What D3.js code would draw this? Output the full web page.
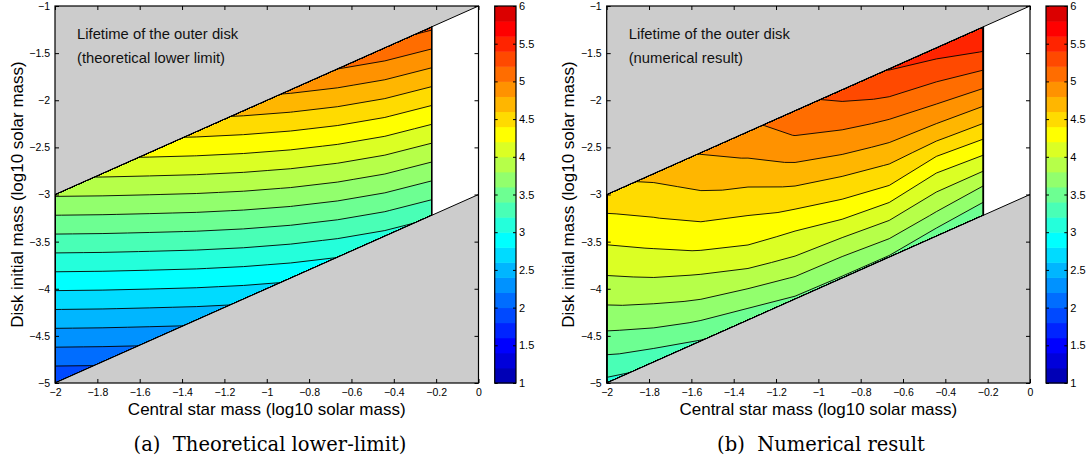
<!DOCTYPE html>
<html lang="en">
<head>
<meta charset="UTF-8">
<title>Lifetime of the outer disk</title>
<style>
  body { margin: 0; padding: 0; background: #fff; }
  svg { display: block; font-family: "Liberation Sans", Arial, sans-serif; }
</style>
</head>
<body>
<script src="https://d3js.org/d3.v7.min.js"></script>
<script>
const width = 1089
const height = 465

// grid columns: log10 central star mass, rows: log10 (disk mass / star mass)
const starMass = [-2, -1.7775, -1.555, -1.3325, -1.11, -0.8875, -0.665, -0.4425, -0.22]
const massRatio = [-3, -2.75, -2.5, -2.25, -2, -1.75, -1.5, -1.25, -1]

// log10 lifetime, one line per star mass column (ratio -3 ... -1)
const theoryLifetime = [
  [1.82, 2.07, 2.32, 2.57, 2.82, 3.07, 3.32, 3.57, 3.82],
  [2.037, 2.287, 2.537, 2.787, 3.037, 3.287, 3.537, 3.787, 4.037],
  [2.248, 2.498, 2.748, 2.998, 3.248, 3.498, 3.748, 3.998, 4.248],
  [2.457, 2.707, 2.957, 3.207, 3.457, 3.707, 3.957, 4.207, 4.457],
  [2.655, 2.905, 3.155, 3.405, 3.655, 3.905, 4.155, 4.405, 4.655],
  [2.839, 3.089, 3.339, 3.589, 3.839, 4.089, 4.339, 4.589, 4.839],
  [3.003, 3.253, 3.503, 3.753, 4.003, 4.253, 4.503, 4.753, 5.003],
  [3.14, 3.39, 3.64, 3.89, 4.14, 4.39, 4.64, 4.89, 5.14],
  [3.235, 3.485, 3.735, 3.985, 4.235, 4.485, 4.735, 4.985, 5.235]
]
const numericLifetime = [
  [3.15, 3.36, 3.56, 3.75, 3.91, 4.07, 4.22, 4.37, 4.52],
  [3.25, 3.51, 3.71, 3.90, 4.07, 4.23, 4.38, 4.52, 4.65],
  [3.39, 3.63, 3.85, 4.03, 4.23, 4.39, 4.55, 4.68, 4.81],
  [3.48, 3.72, 3.96, 4.17, 4.33, 4.49, 4.66, 4.82, 4.95],
  [3.57, 3.81, 4.04, 4.22, 4.44, 4.64, 4.84, 5.01, 5.11],
  [3.58, 3.82, 4.07, 4.33, 4.53, 4.75, 4.95, 5.12, 5.28],
  [3.58, 3.86, 4.11, 4.39, 4.61, 4.83, 5.03, 5.24, 5.41],
  [3.50, 3.79, 4.03, 4.28, 4.59, 4.86, 5.09, 5.29, 5.50],
  [3.45, 3.72, 4.04, 4.33, 4.63, 4.90, 5.16, 5.41, 5.58]
]

const levels = [1, 1.2, 1.4, 1.6, 1.8, 2, 2.2, 2.4, 2.6, 2.8, 3, 3.2, 3.4, 3.6, 3.8,
  4, 4.2, 4.4, 4.6, 4.8, 5, 5.2, 5.4, 5.6, 5.8]
const xTicks = [-2, -1.8, -1.6, -1.4, -1.2, -1, -0.8, -0.6, -0.4, -0.2, 0]
const yTicks = [-5, -4.5, -4, -3.5, -3, -2.5, -2, -1.5, -1]
const cbTicks = [1, 1.5, 2, 2.5, 3, 3.5, 4, 4.5, 5, 5.5, 6]

// jet(25)
const jet = ['#0000b6', '#0000db', '#0000ff', '#0024ff', '#0049ff', '#006dff', '#0092ff',
  '#00b6ff', '#00dbff', '#00ffff', '#24ffdb', '#49ffb6', '#6dff92', '#92ff6d', '#b6ff49',
  '#dbff24', '#ffff00', '#ffdb00', '#ffb600', '#ff9200', '#ff6d00', '#ff4900', '#ff2400',
  '#ff0000', '#db0000']

const plotTop = 6
const plotBottom = 383
const fmt = d3.format('')

const panels = [
  { left: 55, right: 478.5, cbLeft: 494.7, cbRight: 516, values: theoryLifetime,
    note: ['Lifetime of the outer disk', '(theoretical lower limit)'],
    caption: '(a)\u00a0 Theoretical lower-limit)', captionX: 270 },
  { left: 606.7, right: 1030, cbLeft: 1046, cbRight: 1067.3, values: numericLifetime,
    note: ['Lifetime of the outer disk', '(numerical result)'],
    caption: '(b)\u00a0 Numerical result', captionX: 821 }
]

function setAttr(sel, attrs) {
  Object.entries(attrs).forEach(([k, v]) => sel.attr(k, v))
}

const svg = d3.select('body')
  .append('svg')
  .call(setAttr, { width, height })

panels.forEach(drawPanel)

function drawPanel(p, k) {
  const g = svg.append('g')
  const x = d3.scaleLinear().domain([-2, 0]).range([p.left, p.right])
  const y = d3.scaleLinear().domain([-5, -1]).range([plotBottom, plotTop])
  const n = starMass.length
  const m = massRatio.length
  const colAt = d3.scaleLinear().domain(d3.range(n)).range(starMass).clamp(true)
  const rowAt = d3.scaleLinear().domain(d3.range(m)).range(massRatio).clamp(true)
  const line = d3.line().x(d => x(d[0])).y(d => y(d[1]))

  g.append('rect')
    .call(setAttr, { x: p.left, y: plotTop, width: p.right - p.left, height: plotBottom - plotTop, fill: '#fff' })
  g.append('path')
    .datum([[-2, -1], [0, -1], [-2, -3]])
    .call(setAttr, { d: d => line(d) + 'Z', fill: '#cccccc' })
  g.append('path')
    .datum([[-2, -5], [0, -5], [0, -3]])
    .call(setAttr, { d: d => line(d) + 'Z', fill: '#cccccc' })

  const xEnd = starMass[n - 1]
  const domainPoly = [[-2, -3], [xEnd, xEnd - 1], [xEnd, xEnd - 3], [-2, -5]]
  svg.append('clipPath')
    .attr('id', 'clip' + k)
    .append('path')
    .attr('d', line(domainPoly) + 'Z')

  // contour grid (row-major for d3.contours)
  const grid = []
  for (let j = 0; j < m; j++) {
    for (let i = 0; i < n; i++) grid.push(p.values[i][j])
  }
  const contours = d3.contours().size([n, m]).thresholds(levels)(grid)

  const proj = d3.geoTransform({
    point(c, r) {
      const sx = colAt(c - 0.5)
      const sq = rowAt(r - 0.5)
      this.stream.point(x(sx), y(sx + sq))
    }
  })
  const path = d3.geoPath(proj)

  const data = g.append('g').attr('clip-path', `url(#clip${k})`)
  data.selectAll('path.band')
    .data(contours)
    .join('path')
    .attr('class', 'band')
    .call(setAttr, { d: path, fill: (d, i) => jet[i], stroke: 'none' })
  data.selectAll('path.iso')
    .data(contours.slice(1))
    .join('path')
    .attr('class', 'iso')
    .call(setAttr, { d: path, fill: 'none', stroke: '#000', 'stroke-width': 0.9 })

  // boundary lines
  g.append('path')
    .datum([[-2, -3], [0, -1]])
    .call(setAttr, { d: line, stroke: '#000', 'stroke-width': 1, fill: 'none' })
  g.append('path')
    .datum([[-2, -5], [0, -3]])
    .call(setAttr, { d: line, stroke: '#000', 'stroke-width': 1, fill: 'none' })
  g.append('path')
    .datum([[xEnd, xEnd - 3], [xEnd, xEnd - 1]])
    .call(setAttr, { d: line, stroke: '#000', 'stroke-width': 1.4, fill: 'none' })

  // axes
  const tickLen = 4
  g.append('g')
    .attr('transform', `translate(0,${plotBottom})`)
    .call(d3.axisBottom(x).tickValues(xTicks).tickFormat(fmt).tickSizeInner(-tickLen).tickSizeOuter(0).tickPadding(6))
  g.append('g')
    .attr('transform', `translate(0,${plotTop})`)
    .call(d3.axisTop(x).tickValues(xTicks).tickFormat('').tickSizeInner(-tickLen).tickSizeOuter(0))
  g.append('g')
    .attr('transform', `translate(${p.left},0)`)
    .call(d3.axisLeft(y).tickValues(yTicks).tickFormat(fmt).tickSizeInner(-tickLen).tickSizeOuter(0).tickPadding(5))
  g.append('g')
    .attr('transform', `translate(${p.right},0)`)
    .call(d3.axisRight(y).tickValues(yTicks).tickFormat('').tickSizeInner(-tickLen).tickSizeOuter(0))
  g.selectAll('.domain').remove()
  g.selectAll('.tick text').attr('font-size', 10.5).attr('font-family', '"Liberation Sans", Arial, sans-serif').attr('fill', '#000')
  g.selectAll('.tick line').attr('stroke', '#000')

  g.append('rect')
    .call(setAttr, { x: p.left, y: plotTop, width: p.right - p.left, height: plotBottom - plotTop, fill: 'none', stroke: '#000', 'stroke-width': 1.2 })

  // colorbar
  const c = d3.scaleLinear().domain([1, 6]).range([plotBottom, plotTop])
  const cb = svg.append('g')
  cb.selectAll('rect.cell')
    .data(levels)
    .join('rect')
    .attr('class', 'cell')
    .call(setAttr, {
      x: p.cbLeft,
      y: d => c(d + 0.2),
      width: p.cbRight - p.cbLeft,
      height: d => c(d) - c(d + 0.2) + 0.5,
      fill: (d, i) => jet[i]
    })
  cb.append('g')
    .attr('transform', `translate(${p.cbRight},0)`)
    .call(d3.axisRight(c).tickValues(cbTicks).tickFormat(fmt).tickSizeInner(-3).tickSizeOuter(0).tickPadding(3))
  cb.append('g')
    .attr('transform', `translate(${p.cbLeft},0)`)
    .call(d3.axisLeft(c).tickValues(cbTicks).tickFormat('').tickSizeInner(-3).tickSizeOuter(0))
  cb.selectAll('.domain').remove()
  cb.selectAll('.tick text').attr('font-size', 11).attr('font-family', '"Liberation Sans", Arial, sans-serif').attr('fill', '#000')
  cb.selectAll('.tick line').attr('stroke', '#000')
  cb.append('rect')
    .call(setAttr, { x: p.cbLeft, y: plotTop, width: p.cbRight - p.cbLeft, height: plotBottom - plotTop, fill: 'none', stroke: '#000', 'stroke-width': 1.2 })

  // texts
  g.selectAll('text.note')
    .data(p.note)
    .join('text')
    .attr('class', 'note')
    .call(setAttr, { x: p.left + 22, y: (d, i) => 39 + i * 24, 'font-size': 14.8, fill: '#111' })
    .text(d => d)

  g.append('text')
    .call(setAttr, { x: (p.left + p.right) / 2, y: 415, 'text-anchor': 'middle', 'font-size': 17 })
    .text('Central star mass (log10 solar mass)')
  g.append('text')
    .call(setAttr, {
      transform: `translate(${p.left - 32.5},${(plotTop + plotBottom) / 2}) rotate(-90)`,
      'text-anchor': 'middle',
      'font-size': 17
    })
    .text('Disk initial mass (log10 solar mass)')
  g.append('text')
    .call(setAttr, {
      x: p.captionX, y: 451, 'text-anchor': 'middle',
      'font-family': '"DejaVu Serif", "Liberation Serif", serif', 'font-size': 19.5
    })
    .text(p.caption)
}
</script>
</body>
</html>
